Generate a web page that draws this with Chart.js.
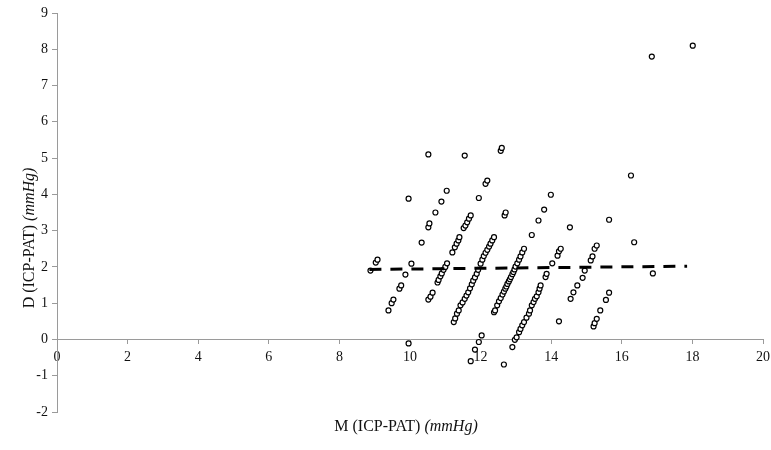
<!DOCTYPE html>
<html>
<head>
<meta charset="utf-8">
<script src="https://cdn.jsdelivr.net/npm/chart.js@4/dist/chart.umd.min.js"></script>
<style>
  html, body { margin: 0; padding: 0; background: #fff; }
  #wrap { width: 771px; height: 450px; }
</style>
</head>
<body>
<div id="wrap"><canvas id="chart" width="771" height="450"></canvas></div>
<script>
// Mean of ICP and PAT (mmHg), grouped by diagonal band
const mValues = [
  8.88, 9.03, 9.08, 9.96, 10.52,
  9.39, 9.48, 9.53, 9.70, 9.75, 9.87, 10.04, 10.33, 10.52, 10.55, 10.72, 10.89, 11.04, 11.55,
  9.96, 10.52, 10.58, 10.64, 10.78, 10.81, 10.86, 10.90, 10.95, 11.00, 11.05, 11.20, 11.27, 11.32, 11.37, 11.40,
  11.52, 11.57, 11.62, 11.67, 11.72, 11.95, 12.14, 12.19, 12.57, 12.60,
  11.24, 11.28, 11.33, 11.38, 11.43, 11.49, 11.55, 11.60, 11.65, 11.70, 11.75, 11.79, 11.84, 11.89, 11.93,
  12.00, 12.05, 12.09, 12.14, 12.19, 12.24, 12.28, 12.33, 12.38, 12.68, 12.71,
  11.72, 11.84, 11.95, 12.03, 12.38, 12.41, 12.47, 12.52, 12.57, 12.62, 12.66, 12.70, 12.73, 12.76, 12.80,
  12.83, 12.86, 12.90, 12.93, 12.96, 12.99, 13.04, 13.09, 13.13, 13.18, 13.23, 13.45, 13.64, 13.80, 13.99,
  12.66, 12.90, 12.97, 13.02, 13.09, 13.13, 13.18, 13.23, 13.30, 13.37, 13.40, 13.45, 13.50, 13.54, 13.59,
  13.64, 13.67, 13.70, 13.84, 13.87, 14.03, 14.18, 14.22, 14.27, 14.53, 16.85,
  14.22, 14.55, 14.63, 14.74, 14.89, 14.95, 15.12, 15.17, 15.23, 15.29, 15.64, 16.26, 18.01,
  15.20, 15.23, 15.29, 15.39, 15.55, 15.64, 16.35,
  16.88
];

// Difference ICP - PAT (mmHg), same order as mValues
const dValues = [
  1.90, 2.12, 2.20, 3.88, 5.10,
  0.80, 1.00, 1.10, 1.40, 1.49, 1.79, 2.09, 2.67, 3.09, 3.20, 3.50, 3.80, 4.10, 5.07,
  -0.11, 1.10, 1.18, 1.29, 1.57, 1.64, 1.74, 1.82, 1.92, 2.00, 2.10, 2.40, 2.54, 2.64, 2.73, 2.82,
  3.07, 3.14, 3.23, 3.33, 3.42, 3.90, 4.29, 4.38, 5.20, 5.28,
  0.48, 0.58, 0.71, 0.80, 0.94, 1.02, 1.12, 1.21, 1.30, 1.41, 1.52, 1.62, 1.71, 1.81, 1.92,
  2.09, 2.20, 2.30, 2.39, 2.47, 2.56, 2.64, 2.73, 2.82, 3.42, 3.50,
  -0.60, -0.28, -0.07, 0.11, 0.75, 0.80, 0.94, 1.05, 1.14, 1.24, 1.32, 1.40, 1.46, 1.53, 1.60,
  1.66, 1.72, 1.80, 1.86, 1.93, 2.01, 2.10, 2.20, 2.29, 2.40, 2.50, 2.88, 3.28, 3.58, 3.99,
  -0.69, -0.21, -0.01, 0.06, 0.20, 0.29, 0.39, 0.48, 0.60, 0.71, 0.80, 0.94, 1.03, 1.12, 1.19,
  1.30, 1.40, 1.49, 1.72, 1.81, 2.10, 2.31, 2.43, 2.50, 3.09, 7.80,
  0.50, 1.12, 1.30, 1.49, 1.70, 1.90, 2.18, 2.29, 2.50, 2.59, 3.30, 4.52, 8.10,
  0.36, 0.45, 0.57, 0.80, 1.09, 1.29, 2.68,
  1.82
];

// Fitted trend line end points
const trendM = [8.85, 17.85];
const trendD = [1.93, 2.02];

// Axis tick values
const xTicks = [0, 2, 4, 6, 8, 10, 12, 14, 16, 18, 20];
const yTicks = [-2, -1, 0, 1, 2, 3, 4, 5, 6, 7, 8, 9];

const SERIF = '"Liberation Serif", "DejaVu Serif", serif';
const AXIS_GREY = '#9a9a9a';

const scatterPoints = mValues.map((m, i) => ({ x: m, y: dValues[i] }));
const trendPoints = trendM.map((m, i) => ({ x: m, y: trendD[i] }));

// Axis titles with an italic unit part
const axisTitles = {
  id: 'axisTitles',
  afterDraw(chart) {
    const ctx = chart.ctx;
    const drawMixed = (plain, italic) => {
      ctx.font = '16px ' + SERIF;
      const w1 = ctx.measureText(plain).width;
      ctx.font = 'italic 16px ' + SERIF;
      const w2 = ctx.measureText(italic).width;
      const start = -(w1 + w2) / 2;
      ctx.textAlign = 'left';
      ctx.textBaseline = 'middle';
      ctx.fillStyle = '#111';
      ctx.font = '16px ' + SERIF;
      ctx.fillText(plain, start, 0);
      ctx.font = 'italic 16px ' + SERIF;
      ctx.fillText(italic, start + w1, 0);
    };
    ctx.save();
    ctx.translate(406, 427);
    drawMixed('M (ICP-PAT) ', '(mmHg)');
    ctx.restore();
    ctx.save();
    ctx.translate(30, 238);
    ctx.rotate(-Math.PI / 2);
    drawMixed('D (ICP-PAT) ', '(mmHg)');
    ctx.restore();
  }
};

new Chart(document.getElementById('chart'), {
  type: 'scatter',
  data: {
    datasets: [
      {
        label: 'D vs M',
        data: scatterPoints,
        pointStyle: 'circle',
        pointRadius: 2.5,
        pointBorderWidth: 1.2,
        pointBackgroundColor: '#ffffff',
        pointBorderColor: '#000000',
        showLine: false,
        order: 2
      },
      {
        label: 'Trend',
        data: trendPoints,
        showLine: true,
        borderColor: '#000000',
        borderWidth: 3,
        borderDash: [12, 9],
        pointRadius: 0,
        order: 1
      }
    ]
  },
  options: {
    responsive: false,
    animation: false,
    layout: { padding: { left: 0, right: 8, top: 13, bottom: 38 } },
    plugins: { legend: { display: false }, tooltip: { enabled: false } },
    scales: {
      x: {
        type: 'linear',
        min: 0,
        max: 20,
        position: { y: 0 },
        afterBuildTicks: s => { s.ticks = xTicks.map(v => ({ value: v })); },
        afterFit: s => { s.paddingLeft = 0; s.paddingRight = 0; },
        ticks: { font: { family: SERIF, size: 14 }, color: '#111', padding: 5, maxRotation: 0 },
        grid: { drawOnChartArea: false, drawTicks: true, tickLength: 4, color: AXIS_GREY },
        border: { display: true, color: AXIS_GREY, width: 1 }
      },
      y: {
        type: 'linear',
        min: -2,
        max: 9,
        position: 'left',
        afterBuildTicks: s => { s.ticks = yTicks.map(v => ({ value: v })); },
        afterFit: s => { s.width = 57; s.paddingTop = 0; s.paddingBottom = 0; },
        ticks: { font: { family: SERIF, size: 14 }, color: '#111', padding: 4 },
        grid: { drawOnChartArea: false, drawTicks: true, tickLength: 5, color: AXIS_GREY },
        border: { display: true, color: AXIS_GREY, width: 1 }
      }
    }
  },
  plugins: [axisTitles]
});
</script>
</body>
</html>
